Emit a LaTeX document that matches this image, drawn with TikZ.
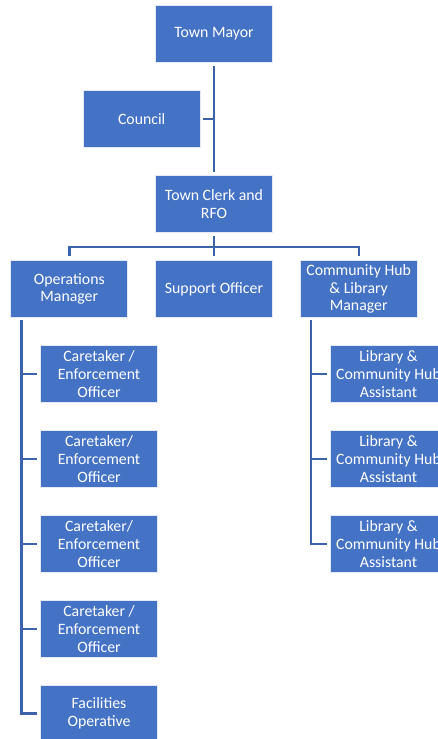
\documentclass[tikz,border=0pt]{standalone}
\usepackage{fontspec}
\setmainfont{Carlito}
\definecolor{boxblue}{HTML}{4472C4}
\definecolor{lineblue}{HTML}{3C62AA}
\begin{document}
\begin{tikzpicture}[x=1pt,y=-1pt,
  box/.style={rectangle, fill=boxblue, draw=white!85!boxblue, line width=0.8pt,
    minimum width=117pt, minimum height=57pt, inner sep=1pt, align=center,
    text=white, font=\fontsize{15.8}{17.6}\selectfont},
  conn/.style={draw=lineblue, line width=2.4pt}]
\useasboundingbox (0,0) rectangle (438,739);
\clip (0,0) rectangle (438,739);
\node[box] (mayor) at (214,34) {Town Mayor};
\node[box] (council) at (141.7,119) {Council};
\node[box] (clerk) at (214,204) {Town Clerk and\\RFO};
\node[box] (ops) at (69.3,289) {Operations\\Manager};
\node[box] (support) at (214,289) {Support Officer};
\node[box] (hub) at (358.7,289) {Community Hub\\\& Library\\Manager};
\node[box] (c1) at (99,374) {Caretaker /\\Enforcement\\Officer};
\node[box] (c2) at (99,459) {Caretaker/\\Enforcement\\Officer};
\node[box] (c3) at (99,544) {Caretaker/\\Enforcement\\Officer};
\node[box] (c4) at (99,629) {Caretaker /\\Enforcement\\Officer};
\node[box] (c5) at (99,713.5) {Facilities\\Operative};
\node[box] (l1) at (388.5,374) {Library \&\\Community Hub\\Assistant};
\node[box] (l2) at (388.5,459) {Library \&\\Community Hub\\Assistant};
\node[box] (l3) at (388.5,544) {Library \&\\Community Hub\\Assistant};
\coordinate (bus) at (214,246.7);
\coordinate (ltop) at (21.3,320);
\coordinate (rtop) at (310.7,320);
% top
\draw[conn, shorten <=3.3pt, shorten >=3.3pt] (mayor.south) -- (clerk.north);
\draw[conn, shorten <=2.8pt] (council.east) -- (council.east -| mayor.south);
% bus
\draw[conn, shorten <=3.3pt] (clerk.south) -- (bus);
\draw[conn, shorten <=4pt, shorten >=4pt] (ops.north) -- (ops.north |- bus) -- (hub.north |- bus) -- (hub.north);
\draw[conn, shorten >=4pt] (bus) -- (support.north);
% left branch
\draw[conn, shorten >=3pt] (ltop) |- (c5.west);
\foreach \n in {c1,c2,c3,c4}
  \draw[conn, shorten >=3pt] (ltop |- \n.west) -- (\n.west);
% right branch
\draw[conn, shorten >=3pt] (rtop) |- (l3.west);
\foreach \n in {l1,l2}
  \draw[conn, shorten >=3pt] (rtop |- \n.west) -- (\n.west);
\end{tikzpicture}
\end{document}
